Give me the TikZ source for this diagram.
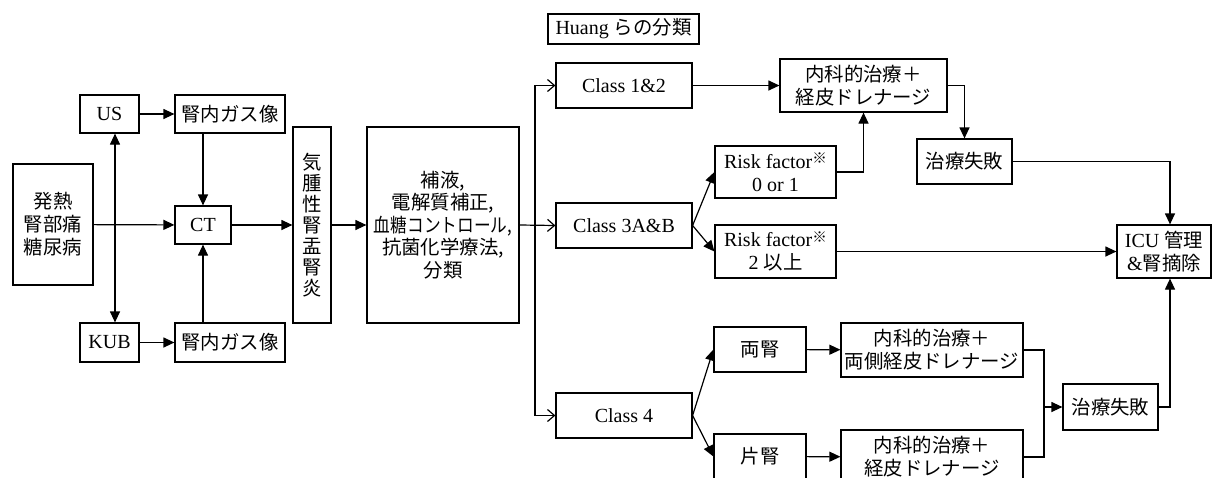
\documentclass[tikz,border=0pt]{standalone}
\usepackage{fontspec}
\usepackage{graphicx}
\setmainfont{Liberation Serif}
\newfontfamily\jp[Scale=0.97]{Noto Sans CJK JP}
\usetikzlibrary{arrows.meta,calc}
\tikzset{
  box/.style={draw, line width=1.2pt, inner sep=2pt, align=center, font=\fontsize{20}{23}\selectfont},
  jbox/.style={box, font=\fontsize{20}{23}\selectfont\jp},
  ln/.style={line width=1.2pt},
  ar/.style={line width=1.2pt, -{Triangle[length=11pt,width=10pt]}},
  dar/.style={line width=1.2pt, {Triangle[length=11pt,width=10pt]}-{Triangle[length=11pt,width=10pt]}},
  oar/.style={line width=1.2pt, -{Straight Barb[length=7pt,width=12pt]}},
}
\newcommand\kome{\raisebox{0.5ex}{\fontsize{15}{15}\selectfont\jp ※}}
\begin{document}
\begin{tikzpicture}[x=1pt,y=-1pt]
\fill[white] (0,0) rectangle (1213,477);
\useasboundingbox (0,0) rectangle (1213,477);
% left part
\node[jbox, minimum width=80pt, minimum height=121pt] (fever) at (53,224.5) {発熱\\腎部痛\\糖尿病};
\node[box, minimum width=59pt, minimum height=38pt] (us) at (109.5,114) {US};
\node[jbox, minimum width=110pt, minimum height=38pt] (gas1) at (230,114) {腎内ガス像};
\node[box, minimum width=56pt, minimum height=38pt] (ct) at (203,225) {CT};
\node[box, minimum width=59pt, minimum height=39pt] (kub) at (109.5,342.5) {KUB};
\node[jbox, minimum width=110pt, minimum height=39pt] (gas2) at (230,342.5) {腎内ガス像};
\node[jbox, minimum width=38pt, minimum height=196pt, font=\fontsize{20}{21}\selectfont\jp] (epn) at (312,225) {気\\腫\\性\\腎\\盂\\腎\\炎};
\node[jbox, minimum width=152pt, minimum height=196pt, font=\fontsize{20}{22.5}\selectfont\jp] (tx) at (443,225)
  {補液,\\電解質補正,\\\scalebox{0.86}[1]{血糖コントロール,}\\抗菌化学療法,\\分類};
% classification
\node[box, minimum width=151pt, minimum height=30pt] (huang) at (623.5,29) {Huang {\jp らの分類}};
\node[box, minimum width=136pt, minimum height=45pt] (c12) at (624,85.5) {Class 1\&2};
\node[box, minimum width=136pt, minimum height=45pt] (c3) at (624,225.5) {Class 3A\&B};
\node[box, minimum width=136pt, minimum height=45pt] (c4) at (624,415.5) {Class 4};
% right part
\node[jbox, minimum width=167pt, minimum height=53pt] (med1) at (863.5,85.5) {内科的治療＋\\経皮ドレナージ};
\node[box, minimum width=121pt, minimum height=52pt] (rf0) at (775.5,172) {Risk factor\kome\\0 or 1};
\node[jbox, minimum width=95pt, minimum height=45pt] (fail1) at (964.5,161.5) {治療失敗};
\node[box, minimum width=121pt, minimum height=53pt] (rf2) at (775.5,251.5) {Risk factor\kome\\2 {\jp 以上}};
\node[box, minimum width=94pt, minimum height=53pt] (icu) at (1164,251.5) {ICU {\jp 管理}\\\&{\jp 腎摘除}};
\node[jbox, minimum width=92pt, minimum height=45pt] (bil) at (760,349.5) {両腎};
\node[jbox, minimum width=182pt, minimum height=54pt] (med2) at (932,350) {内科的治療＋\\両側経皮ドレナージ};
\node[jbox, minimum width=95pt, minimum height=46pt] (fail2) at (1110.5,407) {治療失敗};
\node[jbox, minimum width=92pt, minimum height=45pt] (uni) at (760,456.5) {片腎};
\node[jbox, minimum width=182pt, minimum height=54pt] (med3) at (932,457) {内科的治療＋\\経皮ドレナージ};
% connectors left
\draw[ar] (us) -- (gas1);
\draw[ar] (kub) -- (gas2);
\draw[dar] ([xshift=5.5pt]us.south) -- ([xshift=5.5pt]kub.north);
\draw[ar] (fever) -- (ct);
\draw[ar] (gas1.south -| ct.north) -- (ct.north);
\draw[ar] (gas2.north -| ct.south) -- (ct.south);
\draw[ar] (ct) -- (epn);
\draw[ar] (epn) -- (tx);
\coordinate (br) at (535,225);
\draw[oar] (tx.east) -- (c3.west);
\draw[oar] (br) |- (c12.west);
\draw[oar] (br) |- (c4.west);
% connectors right
\draw[ar] (c12) -- (med1);
\draw[ar] (c3.east) -- (rf0.west);
\draw[ar] (c3.east) -- (rf2.west);
\draw[ar] (rf0.east) -| (med1.south);
\draw[ar] (med1.east) -| (fail1.north);
\draw[ar] (fail1.east) -| ([xshift=6pt]icu.north);
\draw[ar] (rf2) -- (icu);
\draw[ar] (c4.east) -- (bil.west);
\draw[ar] (c4.east) -- (uni.west);
\draw[ar] (bil) -- (med2);
\draw[ar] (uni) -- (med3);
\coordinate (j) at (1044,407);
\draw[ln] (med2.east) -| (j) |- (med3.east);
\draw[ar] (j) -- (fail2.west);
\draw[ar] (fail2.east) -| ([xshift=6pt]icu.south);
\end{tikzpicture}
\end{document}
